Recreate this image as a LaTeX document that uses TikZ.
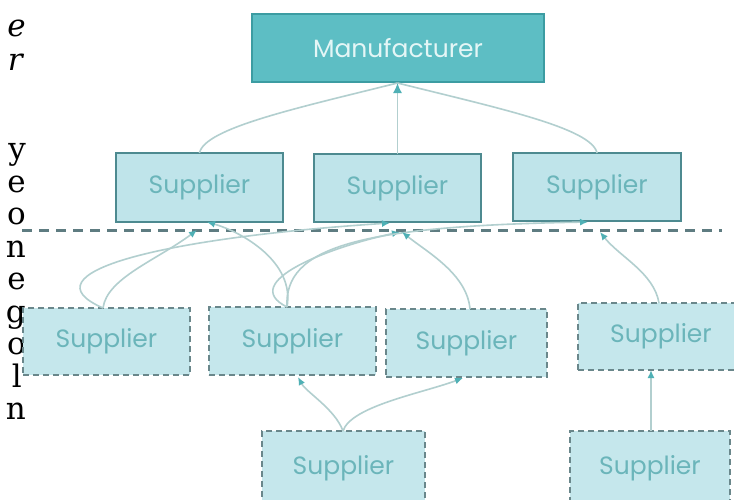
\documentclass[tikz,border=0pt]{standalone}
\usepackage{fontspec}
\newfontfamily\diagfont{Poppins}
\newfontfamily\cutserif{DejaVu Serif}
\usetikzlibrary{arrows.meta,calc}
\definecolor{mfrfill}{HTML}{5DBEC4}
\definecolor{mfrborder}{HTML}{3C9CA2}
\definecolor{mfrtext}{HTML}{E4F6F6}
\definecolor{tonefill}{HTML}{BFE4EA}
\definecolor{toneborder}{HTML}{4D8A90}
\definecolor{ttwofill}{HTML}{C5E7EC}
\definecolor{ttwoborder}{HTML}{6A878B}
\definecolor{suptext}{HTML}{6BB5BA}
\definecolor{linkc}{HTML}{B2CFCF}
\definecolor{tipc}{HTML}{4FB0B5}
\definecolor{sepc}{HTML}{5E7C81}
\tikzset{
  boxbase/.style={rectangle, inner sep=0pt, outer sep=0pt, anchor=north west,
    font=\diagfont\fontsize{25}{30}\selectfont},
  mfrbox/.style={boxbase, fill=mfrfill, draw=mfrborder, line width=2pt, text=mfrtext},
  tonebox/.style={boxbase, fill=tonefill, draw=toneborder, line width=2pt, text=suptext},
  ttwobox/.style={boxbase, fill=ttwofill, draw=ttwoborder, line width=2pt,
    dash pattern=on 6pt off 4pt, text=suptext},
  link/.style={draw=linkc, line width=1.6pt, -{Latex[length=8pt,width=7pt,color=tipc]}},
  plainlink/.style={draw=linkc, line width=1.6pt},
  sepline/.style={draw=sepc, line width=3pt, dash pattern=on 10pt off 7pt},
  cutletter/.style={anchor=base east, inner sep=0pt, text=black,
    font=\cutserif\fontsize{31}{34}\selectfont}
}
\begin{document}
\begin{tikzpicture}[x=1pt,y=-1pt]
\useasboundingbox (0,0) rectangle (734,499);
\clip (0,0) rectangle (734,499);
\fill[white] (0,0) rectangle (734,499);

% cut-off text column on the left
\node[cutletter] (t1) at (26,36) {\itshape e};
\node[cutletter] (t2) at (23,70) {\itshape r};
\node[cutletter] (t3) at (26,159) {y};
\node[cutletter] (t4) at (26,192) {e};
\node[cutletter] (t5) at (26,224) {o};
\node[cutletter] (t6) at (26,257) {n};
\node[cutletter] (t7) at (26,289) {e};
\node[cutletter] (t8) at (26,322) {g};
\node[cutletter] (t9) at (26,354) {o};
\node[cutletter] (t10) at (22,387) {l};
\node[cutletter] (t11) at (26,419) {n};

% separator
\coordinate (sepL) at (22,230);
\coordinate (sepR) at (722,230);
\draw[sepline] (sepL) -- (sepR);

% boxes
\node[mfrbox, minimum width=292pt, minimum height=68pt] (m) at (252,14) {Manufacturer};
\node[tonebox, minimum width=167pt, minimum height=69pt] (s1) at (116,153) {Supplier};
\node[tonebox, minimum width=167pt, minimum height=68pt] (s2) at (314,154) {Supplier};
\node[tonebox, minimum width=168pt, minimum height=68pt] (s3) at (513,153) {Supplier};
\node[ttwobox, minimum width=167pt, minimum height=67pt] (b1) at (23,308) {Supplier};
\node[ttwobox, minimum width=167pt, minimum height=68pt] (b2) at (209,307) {Supplier};
\node[ttwobox, minimum width=161pt, minimum height=68pt] (b3) at (386,309) {Supplier};
\node[ttwobox, minimum width=166pt, minimum height=67pt] (b4) at (578,303) {Supplier};
\node[ttwobox, minimum width=163pt, minimum height=74pt] (c1) at (262,431) {Supplier};
\node[ttwobox, minimum width=160pt, minimum height=74pt] (c2) at (570,431) {Supplier};

% manufacturer links
\coordinate (mtip) at ($(m.south)+(-0.5,1)$);
\draw[plainlink] (s1.north) .. controls +(5,-25) and +(-100,25) .. (mtip);
\draw[plainlink] (s3.north) .. controls +(-5,-25) and +(100,25) .. (mtip);
\draw[link, -{Latex[length=10pt,width=9pt,color=tipc]}] (s2.north) -- (mtip);

% tier two to tier one links
\draw[link] ($(b1.north)+(-3.5,0)$) .. controls +(4,-30) and +(-40,30) .. ($(s1.south)+(-2.5,8)$);
\draw[link] ($(b1.north)+(-3.5,0)$) .. controls +(-80,-35) and +(-230,15) .. ($(s2.south)+(-7.5,1)$);
\draw[link] ($(b2.north)+(-5.5,0)$) .. controls +(8,-45) and +(35,10) .. ($(s1.south)+(7.5,0)$);
\draw[link] ($(b2.north)+(-5.5,0)$) .. controls +(-50,-25) and +(-70,15) .. ($(s2.south)+(2.5,10)$);
\draw[link] ($(b2.north)+(-5.5,0)$) .. controls +(-3,-60) and +(-230,4) .. ($(s3.south)+(-9,1)$);
\draw[link] ($(b3.north)+(3.5,0)$) .. controls +(-3,-35) and +(25,20) .. ($(s2.south)+(4.5,10)$);
\draw[link] ($(b4.north)+(-2,0)$) .. controls +(-5,-30) and +(20,25) .. ($(s3.south)+(3,11)$);

% tier three to tier two links
\draw[link] ($(c1.north)+(-0.5,0)$) .. controls +(-8,-22) and +(8,15) .. ($(b2.south)+(5.5,2)$);
\draw[link] ($(c1.north)+(-0.5,0)$) .. controls +(8,-25) and +(-40,15) .. ($(b3.south)+(-3.5,1)$);
\draw[link] ($(c2.north)+(1,0)$) -- ($(b4.south)+(-10,0)$);
\end{tikzpicture}
\end{document}
